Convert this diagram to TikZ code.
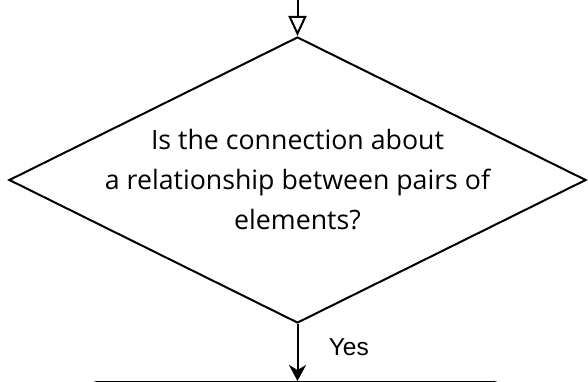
\documentclass[tikz,border=0pt]{standalone}
\usepackage{fontspec}
\setmainfont{Open Sans}
\newfontfamily\yesfont{Liberation Sans}
\usetikzlibrary{shapes.geometric,arrows.meta}

\tikzset{
    decision/.style={diamond,draw,line width=2pt,inner sep=0pt,minimum width=577pt,minimum height=286pt},
    processbox/.style={rectangle,draw,line width=2pt,rounded corners=8pt,minimum width=412pt,minimum height=80pt},
    qtext/.style={align=center,font=\fontsize{26.7}{40}\selectfont},
    edgelabel/.style={font=\yesfont\fontsize{24.5}{28}\selectfont},
}

\begin{document}
\begin{tikzpicture}[x=1pt,y=-1pt]
    \useasboundingbox (0,0) rectangle (588,382) ;
    \clip (0,0) rectangle (588,382) ;

    \node[decision] (question) at (297.5,180) {} ;
    \node[qtext] (question_text) at (question.center) {Is the connection about\\a relationship between pairs of\\elements?} ;
    \node[processbox,anchor=north] (next_step) at (295.5,381) {} ;
    \coordinate (from_above) at (297.5,-2) ;

    \draw[-{Triangle[open,width=18pt,length=20pt]}, line width=2pt] (from_above) -- (question.north) ;
    \draw[-{Stealth[width=17pt,length=16pt,inset=5pt]}, line width=2pt] (question.south) -- (question.south |- next_step.north)
        node[edgelabel,pos=0.4,anchor=west,xshift=27pt] (yes) {Yes} ;
\end{tikzpicture}
\end{document}
